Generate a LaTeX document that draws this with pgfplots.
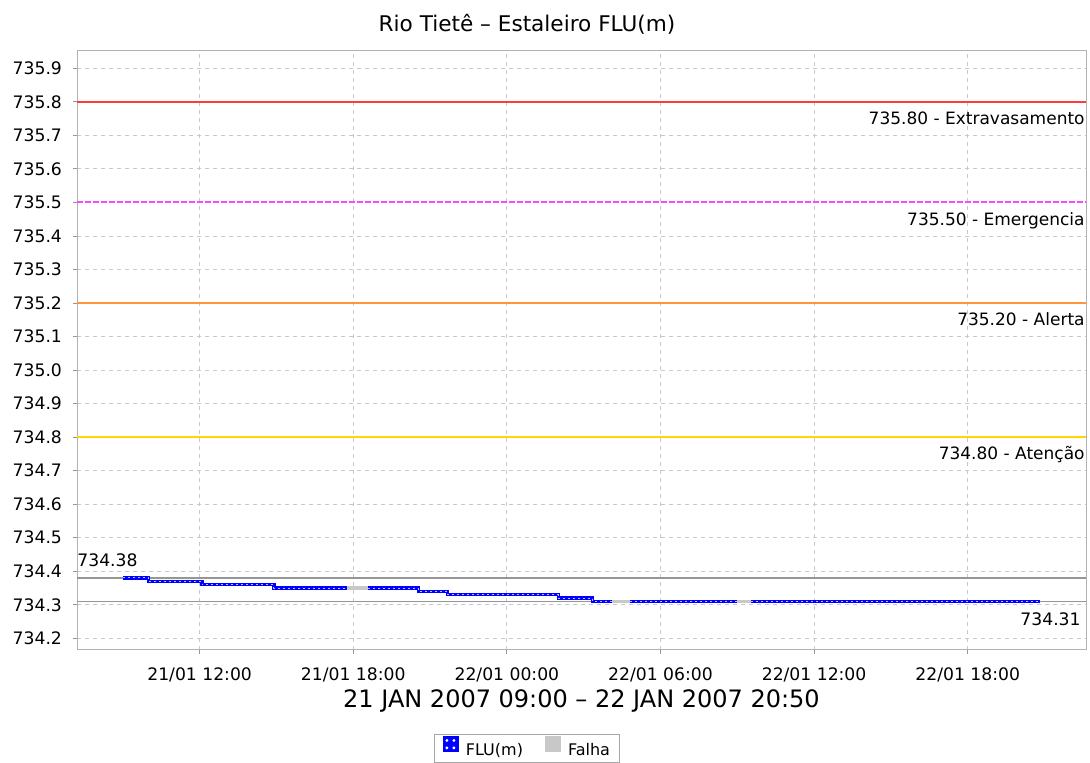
\documentclass[border=0pt]{standalone}
\usepackage{pgfplots}
\usepackage{pgfplotstable}
\pgfplotsset{compat=1.18}
\usepackage{fontspec}
\setmainfont{DejaVu Sans}
\definecolor{thrred}{RGB}{255,60,60}
\definecolor{thrmag}{RGB}{255,70,255}
\definecolor{throrange}{RGB}{255,150,60}
\definecolor{thryellow}{RGB}{255,215,0}
\definecolor{falha}{RGB}{200,200,200}
\definecolor{gridgray}{RGB}{200,200,200}
\definecolor{refgray}{RGB}{150,150,150}

\pgfplotstableread{
x y
9.00 734.38
10.00 734.37
12.10 734.36
14.90 734.35
17.75 734.35
nan nan
18.59 734.35
20.54 734.34
21.68 734.33
26.01 734.32
27.35 734.31
28.09 734.31
nan nan
28.80 734.31
32.97 734.31
nan nan
33.55 734.31
44.83 734.31
}\flu

\pgfplotstableread{
x y
17.75 734.35
18.59 734.35
nan nan
28.09 734.31
28.80 734.31
nan nan
32.97 734.31
33.55 734.31
}\falhatab

\begin{document}
\begin{tikzpicture}
\useasboundingbox (0,0) rectangle (545pt,381.5pt);
\begin{axis}[
  at={(38.5pt,56.5pt)}, anchor=south west,
  scale only axis, width=504.5pt, height=299.5pt,
  xmin=7.21, xmax=46.62, ymin=734.165, ymax=735.952,
  xtick={12,18,24,30,36,42},
  xticklabels={21/01 12:00,21/01 18:00,22/01 00:00,22/01 06:00,22/01 12:00,22/01 18:00},
  ytick={734.2,734.3,...,735.95},
  scaled y ticks=false,
  tick align=outside, major tick length=2pt,
  xtick pos=bottom, ytick pos=left,
  tick style={refgray, line width=0.5pt},
  axis line style={gray!60, line width=0.5pt},
  grid=major,
  major grid style={gridgray, line width=0.5pt, dash pattern=on 2pt off 2pt},
  tick label style={font=\fontsize{8.6}{10}\selectfont, black},
  xticklabel style={anchor=base, yshift=-13.35pt},
  yticklabel style={anchor=east, xshift=-2pt, /pgf/number format/fixed, /pgf/number format/fixed zerofill, /pgf/number format/precision=1, /pgf/number format/assume math mode=true},
  title={Rio Tietê – Estaleiro FLU(m)},
  title style={at={(rel axis cs:0.446,1)}, anchor=base, yshift=3.65pt, font=\fontsize{10.8}{12}\selectfont, inner sep=0pt},
  xlabel={21 JAN 2007 09:00 – 22 JAN 2007 20:50},
  xlabel style={at={(rel axis cs:0.5,0)}, anchor=base, yshift=-29pt, font=\fontsize{12}{14}\selectfont},
  unbounded coords=jump,
  legend columns=2,
  legend style={draw=gray!70, font=\fontsize{8}{9}\selectfont, at={(0.446,-0.140)}, anchor=north,
    inner xsep=4pt, inner ysep=1pt, row sep=0pt,
    nodes={inner sep=0.8pt},
    /tikz/every odd column/.append style={column sep=3pt},
    /tikz/every even column/.append style={column sep=10pt}},
]
% threshold lines
\addplot[thrred, line width=0.9pt, forget plot] coordinates {(7.21,735.80) (46.62,735.80)};
\addplot[thrmag, line width=1pt, dash pattern=on 3pt off 1pt, forget plot] coordinates {(7.21,735.50) (46.62,735.50)};
\addplot[throrange, line width=0.9pt, forget plot] coordinates {(7.21,735.20) (46.62,735.20)};
\addplot[thryellow, line width=0.9pt, forget plot] coordinates {(7.21,734.80) (46.62,734.80)};
% max / min reference lines
\addplot[refgray, line width=0.7pt, forget plot] coordinates {(7.21,734.38) (46.62,734.38)};
\addplot[refgray, line width=0.7pt, forget plot] coordinates {(7.21,734.31) (46.62,734.31)};
% Falha
\addplot[falha, line width=1.6pt, forget plot] table[x=x,y=y] {\falhatab};
% FLU(m)
\addplot[blue, line width=1.7pt, const plot mark left, forget plot] table[x=x,y=y] {\flu};
\addplot[white!75!blue, line width=0.45pt, const plot mark left, dash pattern=on 1pt off 1.5pt, forget plot] table[x=x,y=y] {\flu};
\addlegendimage{legend image code/.code={\fill[blue] (0pt,-0.3pt) rectangle (7.5pt,7.2pt);
  \fill[white] (2pt,1.6pt) circle (0.5pt) (5.5pt,1.6pt) circle (0.5pt) (2pt,5.3pt) circle (0.5pt) (5.5pt,5.3pt) circle (0.5pt);}}
\addlegendentry{FLU(m)}
\addlegendimage{legend image code/.code={\fill[falha] (0pt,-0.3pt) rectangle (7.5pt,7.2pt);}}
\addlegendentry{Falha}
% labels
\node[anchor=base east, font=\fontsize{8.5}{9}\selectfont, inner sep=0pt, xshift=-0.5pt, yshift=-11.3pt] at (axis cs:46.62,735.80) {735.80 - Extravasamento};
\node[anchor=base east, font=\fontsize{8.5}{9}\selectfont, inner sep=0pt, xshift=-0.5pt, yshift=-11.3pt] at (axis cs:46.62,735.50) {735.50 - Emergencia};
\node[anchor=base east, font=\fontsize{8.5}{9}\selectfont, inner sep=0pt, xshift=-0.5pt, yshift=-11.3pt] at (axis cs:46.62,735.20) {735.20 - Alerta};
\node[anchor=base east, font=\fontsize{8.5}{9}\selectfont, inner sep=0pt, xshift=-0.5pt, yshift=-11.3pt] at (axis cs:46.62,734.80) {734.80 - Atenção};
\node[anchor=base west, font=\fontsize{8.6}{10}\selectfont, inner sep=0pt, yshift=5.5pt] at (axis cs:7.21,734.38) {734.38};
\node[anchor=base east, font=\fontsize{8.6}{10}\selectfont, inner sep=0pt, xshift=-2.5pt, yshift=-12pt] at (axis cs:46.62,734.31) {734.31};
\end{axis}
\end{tikzpicture}
\end{document}
